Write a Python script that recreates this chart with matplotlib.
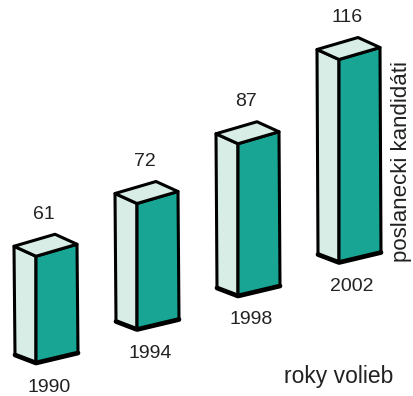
import matplotlib.pyplot as plt
from matplotlib.patches import Polygon

years = ['1990', '1994', '1998', '2002']
candidates = [61, 72, 87, 116]
x_label = 'roky volieb'
y_label = 'poslanecki kandidáti'

# pseudo-3d layout of the boxes, in pixels
base_x0, base_y0 = 36, 363
step_x, step_y = 101, -33.5
scale = 1.75
top_left, top_right = (-22, -10), (41, -12)
bot_left, bot_right = (-21, -8), (42, -10)

light = '#d7ede6'
teal = '#18a593'
ink = '#222222'

plt.rcParams['font.family'] = ['Liberation Sans', 'DejaVu Sans']

fig = plt.figure(figsize=(4.13, 3.96), dpi=100)
ax = fig.add_axes([0, 0, 1, 1])
ax.set_xlim(0, 413)
ax.set_ylim(396, 0)
ax.axis('off')

for i, (yr, v) in enumerate(zip(years, candidates)):
    fx = base_x0 + step_x * i
    fy = base_y0 + step_y * i
    top = fy - v * scale
    tl = (fx + top_left[0], top + top_left[1])
    tr = (fx + top_right[0], top + top_right[1])
    bl = (fx + bot_left[0], fy + bot_left[1])
    br = (fx + bot_right[0], fy + bot_right[1])
    back = (tl[0] + top_right[0], tl[1] + top_right[1])
    style = dict(closed=True, ec='black', lw=2.2, joinstyle='round')
    ax.add_patch(Polygon([(fx, fy), bl, tl, (fx, top)], fc=light, **style))
    ax.add_patch(Polygon([(fx, fy), (fx, top), tr, br], fc=teal, **style))
    ax.add_patch(Polygon([(fx, top), tl, back, tr], fc=light, **style))
    ax.plot([bl[0], fx, br[0]], [bl[1], fy, br[1]], color='black', lw=3.4,
            solid_capstyle='round', solid_joinstyle='round')
    ax.text(fx + 8, back[1] - 20, str(v), ha='center', va='center', fontsize=14, color=ink)
    ax.text(fx + 13, fy + 24, yr, ha='center', va='center', fontsize=14, color=ink)

ax.text(284, 383, x_label, ha='left', va='baseline', fontsize=16.5, color=ink)
ax.text(401, 162, y_label, ha='center', va='center', rotation=90, fontsize=16, color=ink)

fig.savefig('out.png', dpi=100)
